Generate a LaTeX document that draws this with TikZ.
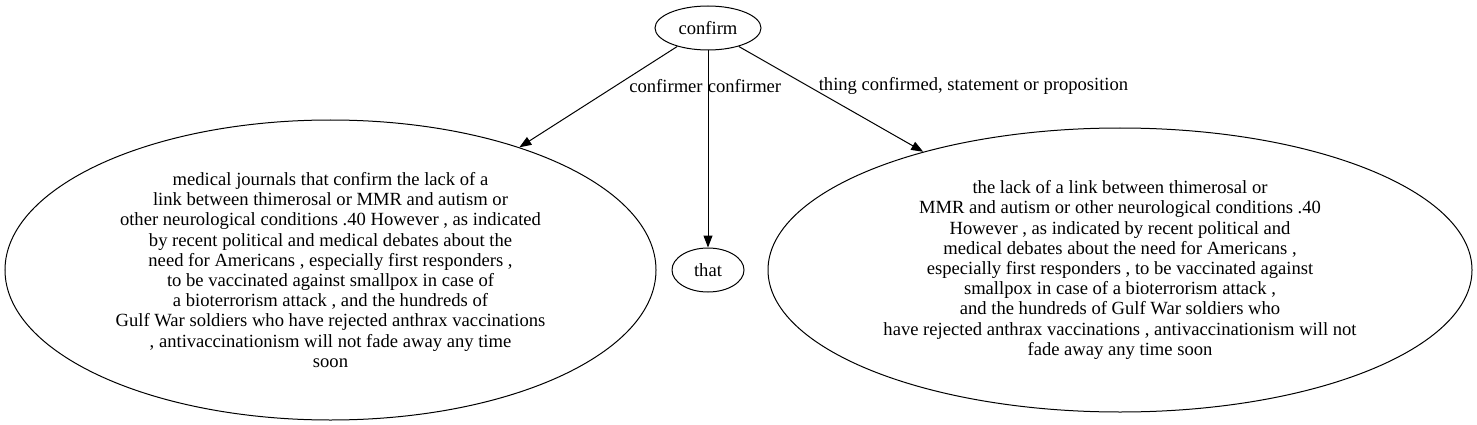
\documentclass[tikz,border=0pt]{standalone}
\usepackage{fontspec}
\setmainfont{Liberation Serif}
\usetikzlibrary{shapes.geometric,arrows.meta}
\begin{document}
\begin{tikzpicture}[x=1pt,y=-1pt,
  every node/.style={font=\fontsize{18.6}{20.2}\selectfont},
  ell/.style={draw,ellipse,inner sep=0pt,align=center,line width=1pt},
  lbl/.style={inner sep=0pt,anchor=center},
  edge/.style={draw,line width=1pt,-{Triangle[length=12pt,width=9pt]}}]
\useasboundingbox (0,0) rectangle (1477,425);
\node[ell,minimum width=106pt,minimum height=44pt] (confirm) at (708,28) {confirm};
\node[ell,minimum width=651pt,minimum height=300pt] (left) at (330.5,270) {medical journals that confirm the lack of a\\link between thimerosal or MMR and autism or\\other neurological conditions .40 However , as indicated\\by recent political and medical debates about the\\need for Americans , especially first responders ,\\to be vaccinated against smallpox in case of\\a bioterrorism attack , and the hundreds of\\Gulf War soldiers who have rejected anthrax vaccinations\\, antivaccinationism will not fade away any time\\soon};
\node[ell,minimum width=72pt,minimum height=44pt] (that) at (708,270) {that};
\node[ell,minimum width=704pt,minimum height=284pt] (right) at (1120,270) {the lack of a link between thimerosal or\\MMR and autism or other neurological conditions .40\\However , as indicated by recent political and\\medical debates about the need for Americans ,\\especially first responders , to be vaccinated against\\smallpox in case of a bioterrorism attack ,\\and the hundreds of Gulf War soldiers who\\have rejected anthrax vaccinations , antivaccinationism will not\\fade away any time soon};
\draw[edge] (confirm.211) -- (left.33.1);
\draw[edge] (confirm) -- (that);
\draw[edge] (confirm.329.5) -- (right.149.5);
\node[lbl] (l1) at (666,86) {confirmer};
\node[lbl] (l2) at (744.5,86) {confirmer};
\node[lbl] (l3) at (973.5,86) {thing confirmed, statement or proposition};
\end{tikzpicture}
\end{document}
